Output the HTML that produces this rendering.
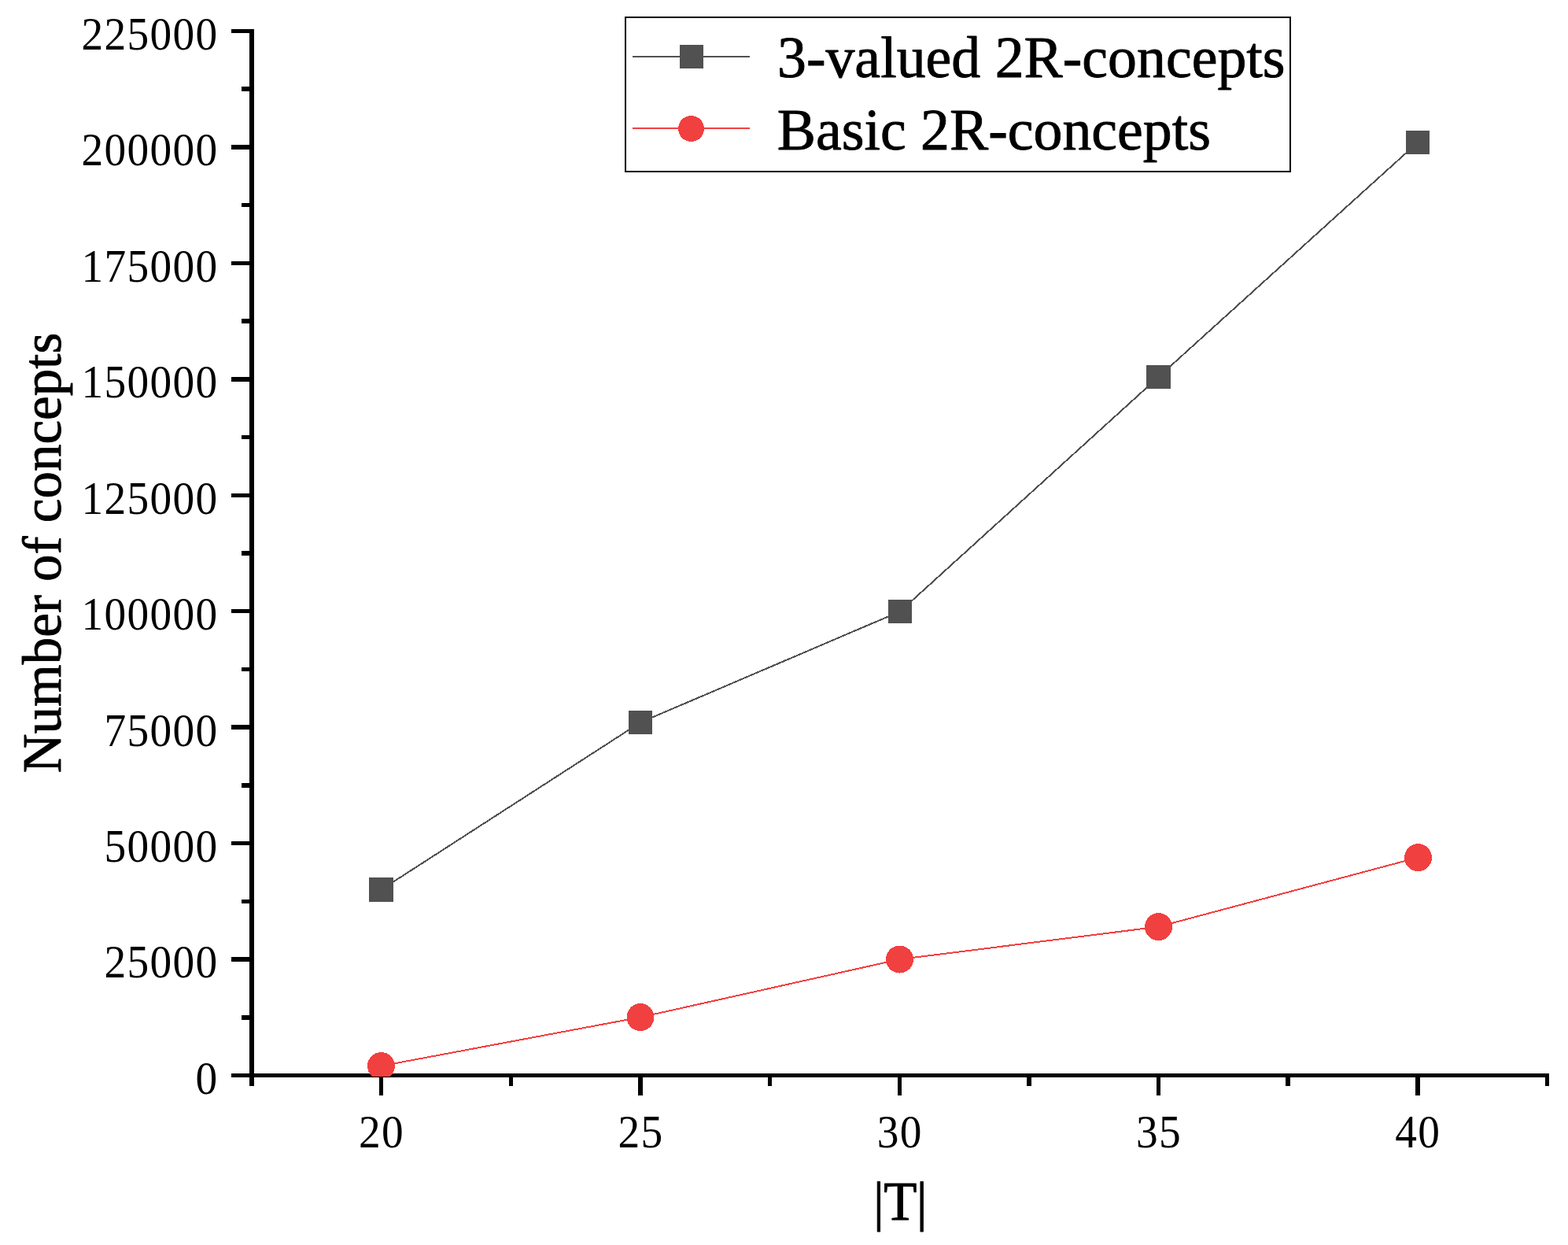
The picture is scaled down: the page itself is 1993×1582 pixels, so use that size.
<!DOCTYPE html>
<html lang="en">
<head>
<meta charset="utf-8">
<title>Number of concepts vs |T|</title>
<style>
html,body{margin:0;padding:0;background:#fff;}
body{width:1993px;height:1582px;overflow:hidden;}
svg{display:block;}
.tick{font-family:"Liberation Serif",serif;font-size:58.33px;fill:#000;letter-spacing:1.36px;}
.title{font-family:"Liberation Serif",serif;font-size:69px;fill:#000;stroke:#000;stroke-width:0.9px;stroke-linejoin:round;}
.leg{font-family:"Liberation Serif",serif;font-size:73.8px;fill:#000;stroke:#000;stroke-width:0.9px;stroke-linejoin:round;}
</style>
</head>
<body>
<svg width="1993" height="1582" viewBox="0 0 1993 1582">
<rect x="0" y="0" width="1993" height="1582" fill="#fff"/>
<g id="axes" fill="#000" shape-rendering="crispEdges">
<rect x="317" y="37" width="6" height="1343"/>
<rect x="294" y="1364" width="1675" height="5"/>
<rect x="294" y="1216" width="23" height="6"/>
<rect x="294" y="1069" width="23" height="5"/>
<rect x="294" y="921" width="23" height="6"/>
<rect x="294" y="774" width="23" height="5"/>
<rect x="294" y="627" width="23" height="5"/>
<rect x="294" y="479" width="23" height="6"/>
<rect x="294" y="332" width="23" height="5"/>
<rect x="294" y="184" width="23" height="6"/>
<rect x="294" y="37" width="23" height="5"/>
<rect x="307" y="1290" width="10" height="6"/>
<rect x="307" y="1143" width="10" height="5"/>
<rect x="307" y="995" width="10" height="6"/>
<rect x="307" y="848" width="10" height="5"/>
<rect x="307" y="700" width="10" height="6"/>
<rect x="307" y="553" width="10" height="5"/>
<rect x="307" y="405" width="10" height="6"/>
<rect x="307" y="258" width="10" height="5"/>
<rect x="307" y="110" width="10" height="6"/>
<rect x="482" y="1369" width="5" height="23"/>
<rect x="811" y="1369" width="6" height="23"/>
<rect x="1141" y="1369" width="5" height="23"/>
<rect x="1470" y="1369" width="5" height="23"/>
<rect x="1799" y="1369" width="6" height="23"/>
<rect x="647" y="1369" width="5" height="11"/>
<rect x="976" y="1369" width="5" height="11"/>
<rect x="1305" y="1369" width="6" height="11"/>
<rect x="1634" y="1369" width="6" height="11"/>
<rect x="1964" y="1369" width="5" height="11"/>
</g>
<g id="ylabels" class="tick" text-anchor="end">
<text transform="translate(277.5,1389.8) scale(0.95,1)">0</text>
<text transform="translate(277.5,1242.4) scale(0.95,1)">25000</text>
<text transform="translate(277.5,1094.9) scale(0.95,1)">50000</text>
<text transform="translate(277.5,947.5) scale(0.95,1)">75000</text>
<text transform="translate(277.5,800.0) scale(0.95,1)">100000</text>
<text transform="translate(277.5,652.6) scale(0.95,1)">125000</text>
<text transform="translate(277.5,505.1) scale(0.95,1)">150000</text>
<text transform="translate(277.5,357.7) scale(0.95,1)">175000</text>
<text transform="translate(277.5,210.2) scale(0.95,1)">200000</text>
<text transform="translate(277.5,62.8) scale(0.95,1)">225000</text>
</g>
<g id="xlabels" class="tick" text-anchor="middle">
<text transform="translate(485.1,1458) scale(0.95,1)">20</text>
<text transform="translate(814.5,1458) scale(0.95,1)">25</text>
<text transform="translate(1143.8,1458) scale(0.95,1)">30</text>
<text transform="translate(1473.0,1458) scale(0.95,1)">35</text>
<text transform="translate(1802.3,1458) scale(0.95,1)">40</text>
</g>
<text class="title" text-anchor="middle" transform="translate(77,702.5) rotate(-90)">Number of concepts</text>
<text class="title" text-anchor="middle" x="1144" y="1550" style="letter-spacing:-0.6px">|T|</text>
<clipPath id="plot"><rect x="323" y="37" width="1646" height="1331"/></clipPath>
<g id="series" clip-path="url(#plot)" shape-rendering="crispEdges">
<polyline fill="none" stroke="#515151" stroke-width="2" points="484.5,1130.5 814.0,918.0 1144.0,777.0 1472.5,479.0 1802.0,181.0"/>
<rect x="469" y="1115" width="31" height="31" fill="#515151"/>
<rect x="799" y="903" width="30" height="30" fill="#515151"/>
<rect x="1129" y="762" width="30" height="30" fill="#515151"/>
<rect x="1457" y="464" width="31" height="30" fill="#515151"/>
<rect x="1787" y="166" width="30" height="30" fill="#515151"/>
<polyline fill="none" stroke="#F14040" stroke-width="2" points="484.5,1354.5 814.0,1292.6 1143.5,1219.0 1472.5,1177.6 1802.5,1089.6"/>
<circle cx="484.5" cy="1354.5" r="17.5" fill="#F14040"/>
<circle cx="814.0" cy="1292.6" r="17.5" fill="#F14040"/>
<circle cx="1143.5" cy="1219.0" r="17.5" fill="#F14040"/>
<circle cx="1472.5" cy="1177.6" r="17.5" fill="#F14040"/>
<circle cx="1802.5" cy="1089.6" r="17.5" fill="#F14040"/>
</g>
<g id="legend">
<rect x="795" y="22" width="845" height="196" fill="#fff" stroke="#000" stroke-width="2" shape-rendering="crispEdges"/>
<g shape-rendering="crispEdges">
<rect x="804" y="71" width="149" height="2" fill="#515151"/>
<rect x="864" y="57" width="30" height="30" fill="#515151"/>
<rect x="804" y="162" width="149" height="2" fill="#F14040"/>
<circle cx="878.5" cy="163.5" r="16.5" fill="#F14040"/>
</g>
<text class="leg" x="988" y="98">3-valued 2R-concepts</text>
<text class="leg" x="987.7" y="189.5">Basic 2R-concepts</text>
</g>
</svg>
</body>
</html>
